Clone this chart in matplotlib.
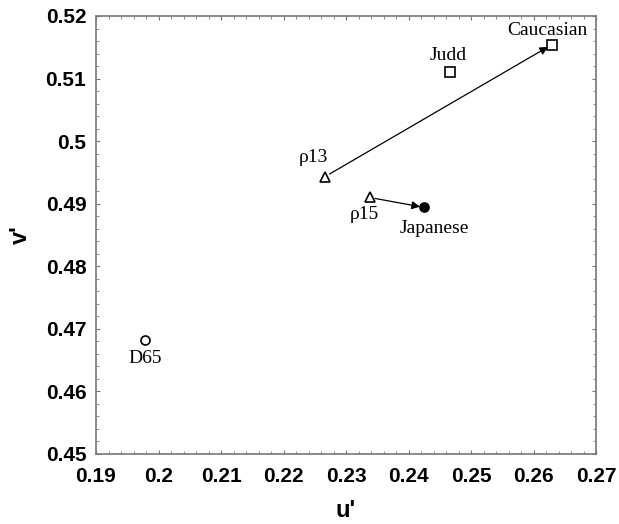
import matplotlib
matplotlib.use("Agg")
import matplotlib.pyplot as plt
from matplotlib.ticker import MultipleLocator

names = ["D65", "Judd", "Caucasian", "ρ13", "ρ15", "Japanese"]
u_vals = [0.1978, 0.2466, 0.2629, 0.2266, 0.2338, 0.2425]
v_vals = [0.4682, 0.5111, 0.5154, 0.4943, 0.4910, 0.4894]
markers = ["o", "s", "s", "^", "^", "o"]
fills = ["none", "none", "none", "none", "none", "black"]
# label offsets in points (dx, dy)
label_offsets = [(0, -13), (-1, 12), (-3, 10), (-8, 14), (-4, -12), (7, -15)]
arrows = [("ρ13", "Caucasian"), ("ρ15", "Japanese")]
x_ticks = [0.19, 0.2, 0.21, 0.22, 0.23, 0.24, 0.25, 0.26, 0.27]
y_ticks = [0.45, 0.46, 0.47, 0.48, 0.49, 0.5, 0.51, 0.52]

fig = plt.figure(figsize=(6.19, 5.24), dpi=100)
ax = fig.add_axes([96/619, 1 - 454/524, 500/619, 438/524])
ax.set_xlim(0.19, 0.27)
ax.set_ylim(0.45, 0.52)

idx = {n: i for i, n in enumerate(names)}
for a, b in arrows:
    i, j = idx[a], idx[b]
    ax.annotate("", xy=(u_vals[j], v_vals[j]), xytext=(u_vals[i], v_vals[i]),
                arrowprops=dict(arrowstyle="-|>", color="black", lw=0.9,
                                shrinkA=4, shrinkB=3, mutation_scale=12))

for n, u, v, m, f, off in zip(names, u_vals, v_vals, markers, fills, label_offsets):
    ax.plot([u], [v], marker=m, markersize=6.5, markerfacecolor=f,
            markeredgecolor="black", markeredgewidth=1.2, linestyle="none")
    ax.annotate(n, (u, v), xytext=off, textcoords="offset points",
                ha="center", va="center", fontsize=14, family="Liberation Serif")

ax.set_xticks(x_ticks)
ax.set_yticks(y_ticks)
ax.set_xticklabels([f"{t:g}" for t in x_ticks])
ax.set_yticklabels([f"{t:g}" for t in y_ticks])
ax.xaxis.set_minor_locator(MultipleLocator(0.002))
ax.yaxis.set_minor_locator(MultipleLocator(0.002))
ax.tick_params(which="both", direction="in", top=True, right=True, color="#777777")
ax.tick_params(which="major", length=3, width=0.8)
ax.tick_params(axis="x", which="major", pad=9)
ax.tick_params(axis="y", which="major", pad=7)
ax.tick_params(which="minor", length=2, width=0.6)
for lab in ax.get_xticklabels() + ax.get_yticklabels():
    lab.set_fontsize(15)
    lab.set_fontweight("bold")
    lab.set_family("Liberation Sans")
for s in ax.spines.values():
    s.set_color("#777777")
    s.set_linewidth(1.2)

ax.set_xlabel("u'", fontsize=17, fontweight="bold", family="Liberation Sans", labelpad=10)
ax.set_ylabel("v'", fontsize=17, fontweight="bold", family="Liberation Sans", labelpad=10)

fig.savefig("out.png", dpi=100)
